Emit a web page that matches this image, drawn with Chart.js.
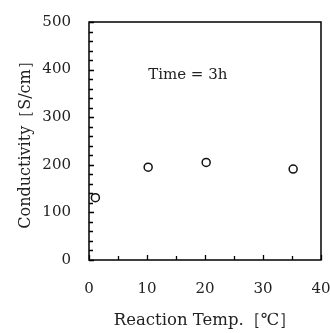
<!DOCTYPE html>
<html>
<head>
<meta charset="utf-8">
<script src="https://cdn.jsdelivr.net/npm/chart.js@4/dist/chart.umd.min.js"></script>
<style>
html,body{margin:0;padding:0;background:#fff;}
#wrap{width:330px;height:333px;position:relative;}
</style>
</head>
<body>
<div id="wrap"><canvas id="c" width="330" height="333"></canvas></div>
<script>
const temps = [1.1, 10.2, 20.2, 35.2];
const conductivity = [131, 195, 205, 191];
const xTickValues = [0, 10, 20, 30, 40];
const yTickValues = [0, 100, 200, 300, 400, 500];
const annotationText = 'Time = 3h';
const xTitle = 'Reaction Temp.［℃］';
const yTitle = 'Conductivity［S/cm］';

const SERIF = '"DejaVu Serif", "Liberation Serif", serif';

const frameAndTicks = {
  id: 'frameAndTicks',
  afterDraw(chart) {
    const {ctx, chartArea: a, scales} = chart;
    const xs = scales.x, ys = scales.y;
    ctx.save();
    ctx.strokeStyle = '#000';
    ctx.lineWidth = 1.5;
    ctx.strokeRect(a.left, a.top, a.right - a.left, a.bottom - a.top);
    ctx.lineWidth = 1.3;
    ctx.beginPath();
    for (let v = xs.min; v <= xs.max; v += 5) {
      const px = Math.round(xs.getPixelForValue(v)) + 0.5;
      const len = (v % 10 === 0) ? 5 : 4;
      ctx.moveTo(px, a.bottom);
      ctx.lineTo(px, a.bottom - len);
    }
    for (let v = ys.min; v <= ys.max; v += 20) {
      const py = Math.round(ys.getPixelForValue(v)) + 0.5;
      const len = (v % 100 === 0) ? 5 : 4;
      ctx.moveTo(a.left, py);
      ctx.lineTo(a.left + len, py);
    }
    ctx.stroke();
    ctx.fillStyle = '#222';
    ctx.font = '15px ' + SERIF;
    ctx.textAlign = 'left';
    ctx.textBaseline = 'middle';
    ctx.fillText(annotationText, xs.getPixelForValue(10.2), ys.getPixelForValue(388));
    ctx.restore();
  }
};

new Chart(document.getElementById('c'), {
  type: 'scatter',
  data: {
    datasets: [{
      data: temps.map((t, i) => ({x: t, y: conductivity[i]})),
      pointStyle: 'circle',
      pointRadius: 4,
      pointBorderWidth: 1.5,
      pointBorderColor: '#111',
      pointBackgroundColor: '#fff',
      showLine: false
    }]
  },
  options: {
    responsive: false,
    animation: false,
    devicePixelRatio: 1,
    layout: {padding: {left: 0, right: 9, top: 22, bottom: 0}},
    plugins: {legend: {display: false}, tooltip: {enabled: false}},
    scales: {
      x: {
        type: 'linear', min: 0, max: 40,
        afterBuildTicks(s) { s.ticks = xTickValues.map(v => ({value: v})); },
        afterFit(s) { s.height = 73; s.paddingLeft = 0; s.paddingRight = 0; },
        grid: {display: false, drawTicks: false},
        border: {display: false},
        ticks: {padding: 20, color: '#222', font: {family: SERIF, size: 15}},
        title: {display: true, text: xTitle, color: '#222', font: {family: SERIF, size: 16.5}, padding: {top: 0, bottom: 2}}
      },
      y: {
        type: 'linear', min: 0, max: 500,
        afterBuildTicks(s) { s.ticks = yTickValues.map(v => ({value: v})); },
        afterFit(s) { s.width = 89; s.paddingTop = 0; s.paddingBottom = 0; },
        grid: {display: false, drawTicks: false},
        border: {display: false},
        ticks: {padding: 18, color: '#222', font: {family: SERIF, size: 15}},
        title: {display: true, text: yTitle, color: '#222', font: {family: SERIF, size: 16}, padding: {top: 16, bottom: 0}}
      }
    }
  },
  plugins: [frameAndTicks]
});
</script>
</body>
</html>
